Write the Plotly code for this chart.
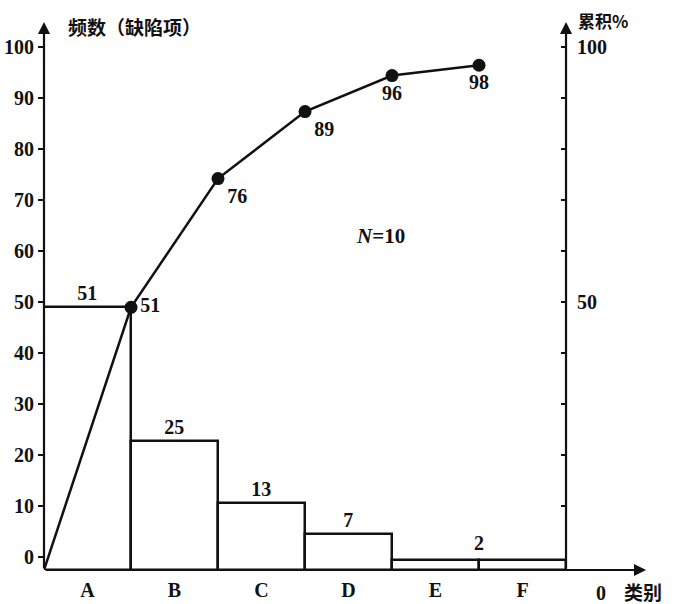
import plotly.graph_objects as go

categories = ["A", "B", "C", "D", "E", "F"]
frequency = [51, 25, 13, 7, 2, 2]
bar_labels = ["51", "25", "13", "7", "", ""]
ef_label = "2"
cumulative = [0, 51, 76, 89, 96, 98]
cum_labels = ["", "51", "76", "89", "96", "98"]
cum_label_pos = ["top left", "middle right", "bottom right", "bottom right", "bottom center", "bottom center"]
left_ticks = [0, 10, 20, 30, 40, 50, 60, 70, 80, 90, 100]
right_tick_labels = {50: "50", 100: "100"}

NUM = "Liberation Serif"
CJK = "Noto Sans CJK SC"
INK = "#111111"

n = len(categories)
x_centers = [i + 0.5 for i in range(n)]
x_cum = list(range(len(cumulative)))

fig = go.Figure()

fig.add_trace(go.Bar(
    x=x_centers, y=frequency, width=1.0,
    marker=dict(color="white", line=dict(color=INK, width=2.5)),
    text=[f"<b>{t}</b>" if t else "" for t in bar_labels], textposition="outside",
    textfont=dict(family=NUM, size=20, color=INK),
    cliponaxis=False, showlegend=False, yaxis="y",
))

fig.add_trace(go.Scatter(
    x=x_cum, y=cumulative, mode="lines+markers+text",
    line=dict(color=INK, width=2.5),
    marker=dict(color=INK, opacity=1, size=[0] + [13] * (len(cumulative) - 1),
                line=dict(color=INK, width=0)),
    text=[f"<b>{t}</b>" if t else "" for t in cum_labels], textposition=cum_label_pos,
    textfont=dict(family=NUM, size=20, color=INK),
    cliponaxis=False, showlegend=False, yaxis="y",
))

XR = [0, 7.126]
YR = [0, 106.4]
TR = [-2.55, 104.9]
right_pos = n / XR[1]

annotations = []
arrow = dict(text="", showarrow=True, arrowhead=2, arrowsize=1.1, arrowwidth=2.2,
             arrowcolor=INK, axref="x", ayref="y", xref="x", yref="y")
annotations.append(dict(x=0, y=YR[1], ax=0, ay=0, **arrow))
annotations.append(dict(x=n, y=YR[1], ax=n, ay=0, **arrow))
annotations.append(dict(x=6.92, y=0, ax=0, ay=0, **arrow))

annotations.append(dict(x=(x_centers[4] + x_centers[5]) / 2, y=frequency[4], xref="x", yref="y",
                        text=f"<b>{ef_label}</b>", showarrow=False, yanchor="bottom", yshift=4,
                        font=dict(family=NUM, size=20, color=INK)))
annotations.append(dict(x=3.87, y=64, xref="x", yref="y", text="<b><i>N</i>=10</b>", showarrow=False,
                        yshift=4, font=dict(family=NUM, size=21, color=INK)))
annotations.append(dict(x=0.25, y=YR[1], xref="x", yref="y", text="<b>频数（缺陷项）</b>",
                        showarrow=False, xanchor="left", yanchor="middle", yshift=-4,
                        font=dict(family=CJK, size=19, color=INK)))
annotations.append(dict(x=n + 0.12, y=YR[1], xref="x", yref="y", text="<b>累积%</b>",
                        showarrow=False, xanchor="left", yanchor="middle", yshift=2,
                        font=dict(family=CJK, size=17, color=INK)))
annotations.append(dict(x=6.4, y=0, xref="x", yref="y", text="<b>0</b>", showarrow=False,
                        yanchor="top", yshift=-10, font=dict(family=NUM, size=20, color=INK)))
annotations.append(dict(x=6.88, y=0, xref="x", yref="y", text="<b>类别</b>", showarrow=False,
                        yanchor="top", yshift=-6, font=dict(family=CJK, size=19, color=INK)))

fig.update_layout(
    width=674, height=604,
    margin=dict(l=44, r=10, t=22, b=34),
    paper_bgcolor="white", plot_bgcolor="white",
    bargap=0,
    xaxis=dict(range=XR, showgrid=False, zeroline=False, showline=False, automargin=False,
               tickvals=x_centers, ticktext=[f"<b>{c}</b>" for c in categories],
               ticks="", tickfont=dict(family=NUM, size=20, color=INK), ticklabelstandoff=6),
    yaxis=dict(range=YR, visible=False, fixedrange=True, automargin=False),
    yaxis2=dict(range=TR, overlaying="y", side="left", anchor="x", automargin=False,
                tickvals=left_ticks, ticktext=[f"<b>{v}</b>" for v in left_ticks],
                ticks="outside", ticklen=5, tickwidth=2, tickcolor=INK, ticklabelstandoff=0,
                showgrid=False, zeroline=False, showline=False,
                tickfont=dict(family=NUM, size=20, color=INK)),
    yaxis3=dict(range=TR, overlaying="y", side="right", anchor="free", position=right_pos,
                automargin=False,
                tickvals=left_ticks[1:], ticktext=[f"<b>{right_tick_labels[v]}</b>" if v in right_tick_labels else "" for v in left_ticks[1:]],
                ticks="inside", ticklen=5, tickwidth=2, tickcolor=INK, ticklabelstandoff=10,
                showgrid=False, zeroline=False, showline=False,
                tickfont=dict(family=NUM, size=20, color=INK)),
    annotations=annotations,
)

fig.add_trace(go.Scatter(x=[None], y=[None], yaxis="y2", showlegend=False))
fig.add_trace(go.Scatter(x=[None], y=[None], yaxis="y3", showlegend=False))

fig.write_html("out.html", config={"displayModeBar": False},
               post_script="document.body.style.margin='0';document.body.style.overflow='hidden';")
